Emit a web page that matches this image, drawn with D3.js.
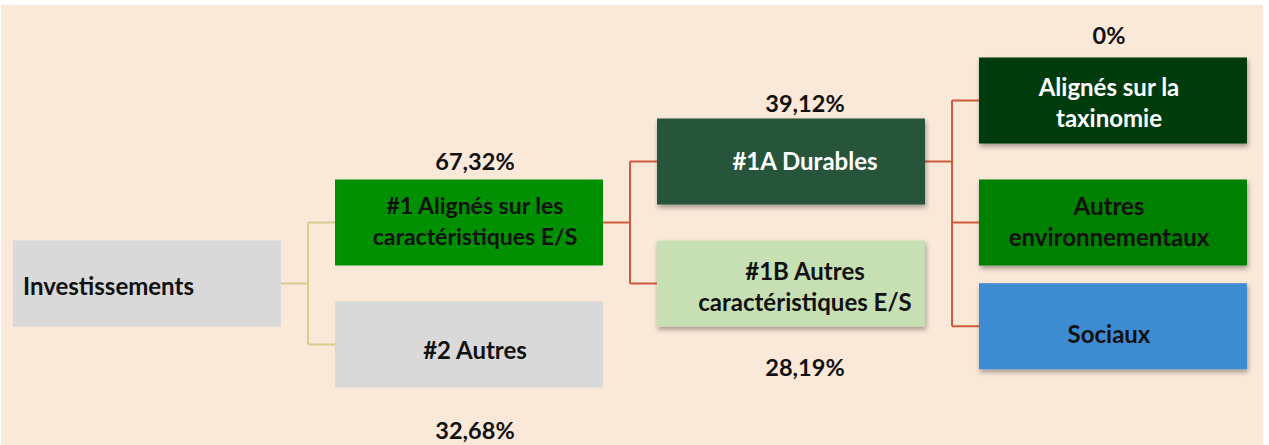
<!DOCTYPE html>
<html>
<head>
<meta charset="utf-8">
<script src="https://cdn.jsdelivr.net/npm/d3@7"></script>
<style>
  html, body { margin: 0; padding: 0; background: #fff; }
  svg { display: block; }
  text { font-family: Lato, "Open Sans", sans-serif; font-weight: 700; }
</style>
</head>
<body>
<svg id="chart" width="1269" height="445"></svg>
<script>
// data
const nodeNames = [
  "Investissements",
  "#1 Alignés sur les\ncaractéristiques E/S",
  "#2 Autres",
  "#1A Durables",
  "#1B Autres\ncaractéristiques E/S",
  "Alignés sur la\ntaxinomie",
  "Autres\nenvironnementaux",
  "Sociaux"
];
const nodeParents = [null, 0, 0, 1, 1, 3, 3, 3];
const nodeShares = [null, 67.32, 32.68, 39.12, 28.19, 0, null, null];

// layout (row of each node, share label offset, text nudges)
const rows = [3, 2, 4, 1, 3, 0, 2, 3.7];
const shareOffset = [null, -10, 51, -7, 49, -14, null, null];
const textDx = [0, 6, 6, 14, 14, -4, -4, -4];
const textDy = [4.5, 0, 7.5, 1, 5, 3.5, 0.5, 10];
const textSize = [24, 23, 24, 24, 24, 24, 24, 24];
const fills = ["#d9d9d9", "#019001", "#d9d9d9", "#25553a", "#c6e0b4", "#013b07", "#018001", "#3e8bd1"];
const inks = ["#111", "#111", "#111", "#fff", "#111", "#fff", "#111", "#111"];
const shadowed = [false, false, false, true, true, true, true, true];

let svg = d3.select("#chart");
let width = +svg.attr("width");
let height = +svg.attr("height");

let boxW = 268, boxH = 86;

let x = d3.scaleLinear().domain([0, 3]).range([13, 979]);
let y = d3.scaleLinear().domain([0, 4]).range([100.5, 344.5]);

let root = d3.stratify()
  .id(d => d.i)
  .parentId(d => d.p)(nodeNames.map((n, i) => ({ i: String(i), p: nodeParents[i] === null ? null : String(nodeParents[i]), name: n })));

root.each(d => {
  d.x0 = x(d.depth);
  d.cy = y(rows[+d.id]);
});

let defs = svg.append("defs");
let f = defs.append("filter").attr("id", "shadow").attr("x", "-10%").attr("y", "-10%").attr("width", "130%").attr("height", "140%");
f.append("feDropShadow").attr("dx", 1).attr("dy", 3).attr("stdDeviation", 2.5)
  .attr("flood-color", "#000").attr("flood-opacity", 0.35);

// background panel
svg.append("rect")
  .attr("x", 1).attr("y", 5).attr("width", 1262).attr("height", height - 5)
  .attr("fill", "#fae8d8");

// connectors
let links = svg.append("g").attr("fill", "none").attr("stroke-width", 2);
root.descendants().filter(d => d.children).forEach(p => {
  let ex = p.x0 + boxW + 27;
  let col = p.depth === 0 ? "#d8cc8f" : "#d05a3c";
  let ys = p.children.map(c => c.cy);
  links.append("path")
    .attr("stroke", col)
    .attr("d", `M${p.x0 + boxW},${p.cy}H${ex}M${ex},${d3.min(ys)}V${d3.max(ys)}` +
      p.children.map(c => `M${ex},${c.cy}H${c.x0}`).join(""));
});

// boxes
let nodes = svg.append("g").selectAll("g")
  .data(root.descendants())
  .join("g")
  .attr("transform", d => `translate(${d.x0},${d.cy - boxH / 2})`);

nodes.append("rect")
  .attr("width", boxW).attr("height", boxH)
  .attr("fill", d => fills[+d.id])
  .attr("filter", d => shadowed[+d.id] ? "url(#shadow)" : null);

let lineH = 31;
nodes.each(function(d) {
  let i = +d.id;
  let lines = d.data.name.split("\n");
  let left = d.depth === 0;
  let t = d3.select(this).append("text")
    .attr("fill", inks[i])
    .attr("font-size", textSize[i])
    .attr("text-anchor", left ? "start" : "middle")
    .attr("x", left ? 10 : boxW / 2 + textDx[i]);
  lines.forEach((l, k) => {
    t.append("tspan")
      .attr("x", left ? 10 : boxW / 2 + textDx[i])
      .attr("y", boxH / 2 + textDy[i] + (k - (lines.length - 1) / 2) * lineH + 7)
      .text(l);
  });
});

// share labels
let fmt = d3.formatLocale({ decimal: ",", thousands: " ", grouping: [3], currency: ["", "€"] }).format(".2f");
let shareText = v => (v === 0 ? "0" : fmt(v)) + "%";

nodes.filter(d => nodeShares[+d.id] !== null)
  .append("text")
  .attr("font-size", 23.5)
  .attr("fill", "#111")
  .attr("text-anchor", "middle")
  .attr("x", d => boxW / 2 + textDx[+d.id])
  .attr("y", d => {
    let o = shareOffset[+d.id];
    return o < 0 ? o : boxH + o;
  })
  .text(d => shareText(nodeShares[+d.id]));
</script>
</body>
</html>
